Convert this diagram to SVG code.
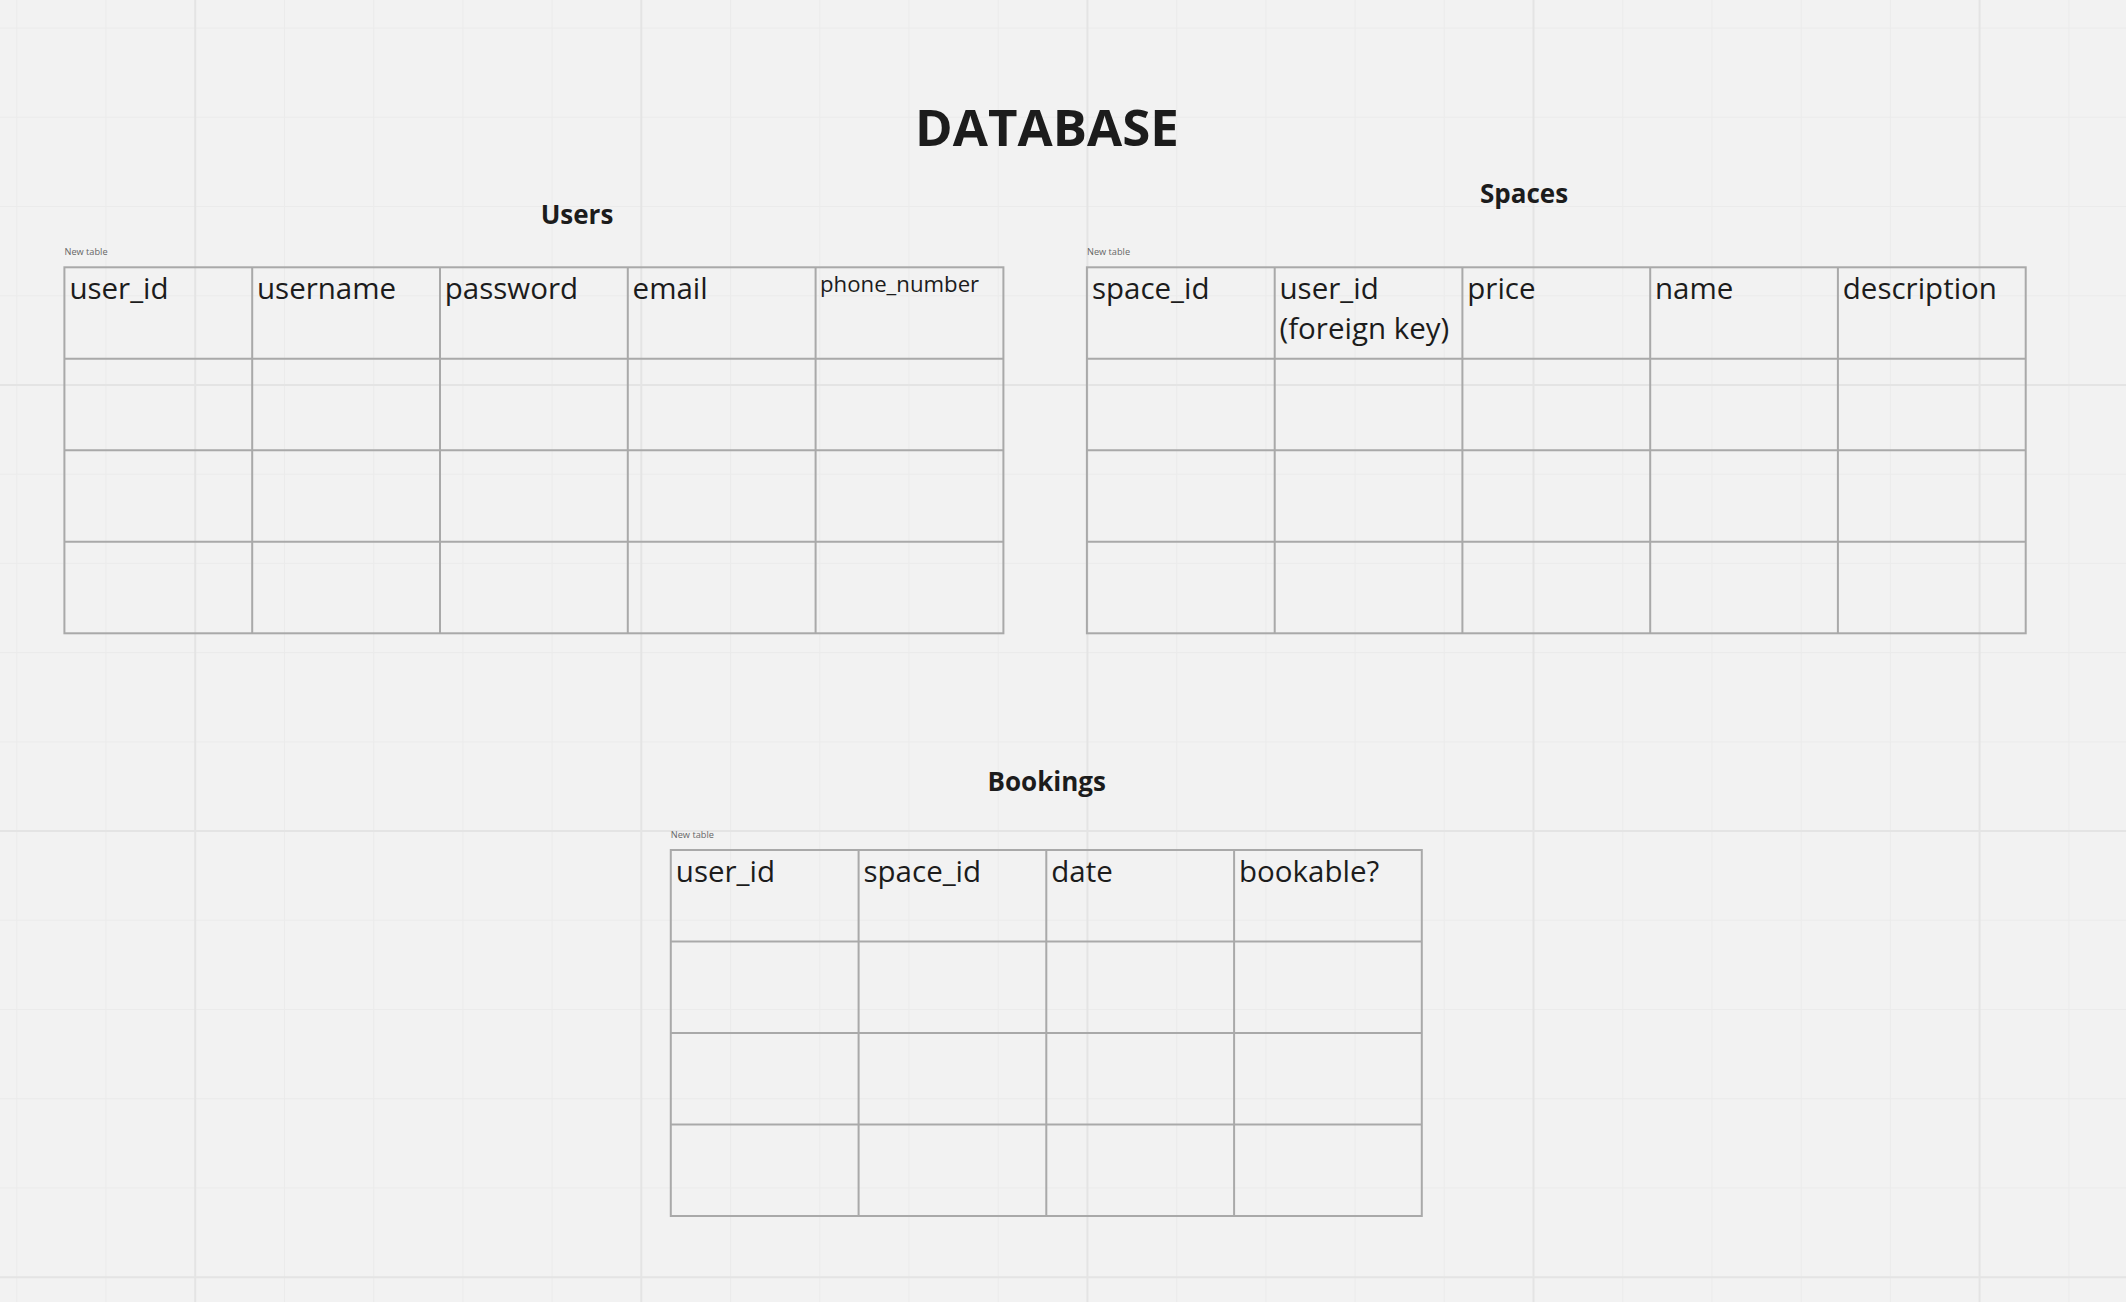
<svg xmlns="http://www.w3.org/2000/svg" width="2126" height="1302" viewBox="0 0 2126 1302">
<style>
.minor{stroke:#ebebeb;stroke-width:1;fill:none}
.major{stroke:#e4e4e4;stroke-width:2;fill:none}
.tbl{stroke:#a9a9a9;stroke-width:2;fill:none}
.hdr{font-family:"Open Sans","Noto Sans","Liberation Sans",sans-serif;font-size:29.5px;fill:#1c1c1c}
.hdr-sm{font-family:"Open Sans","Noto Sans","Liberation Sans",sans-serif;font-size:22.2px;fill:#1c1c1c}
.cap{font-family:"Open Sans","Noto Sans","Liberation Sans",sans-serif;font-size:9.2px;fill:#666666}
.ttl{font-family:"Open Sans","Noto Sans","Liberation Sans",sans-serif;font-weight:bold;font-size:26px;fill:#1c1c1c;text-anchor:middle}
.main{font-family:"Open Sans","Noto Sans","Liberation Sans",sans-serif;font-weight:bold;font-size:51px;fill:#1c1c1c;text-anchor:middle}
</style>
<rect x="0" y="0" width="2126" height="1302" fill="#f2f2f2"/>
<g id="grid">
<path class="minor" d="M16.8 0V1302M106 0V1302M284.5 0V1302M373.7 0V1302M462.9 0V1302M552.1 0V1302M730.6 0V1302M819.8 0V1302M909 0V1302M998.2 0V1302M1176.7 0V1302M1265.9 0V1302M1355.1 0V1302M1444.3 0V1302M1622.8 0V1302M1712 0V1302M1801.2 0V1302M1890.4 0V1302M2068.9 0V1302M0 28.1H2126M0 117.3H2126M0 206.5H2126M0 295.8H2126M0 474.2H2126M0 563.4H2126M0 652.6H2126M0 741.9H2126M0 920.3H2126M0 1009.5H2126M0 1098.7H2126M0 1188H2126"/>
<path class="major" d="M195.2 0V1302M641.3 0V1302M1087.4 0V1302M1533.5 0V1302M1979.6 0V1302M0 385H2126M0 831.1H2126M0 1277.2H2126"/>
</g>
<g id="title">
<text class="main" x="1047" y="146">DATABASE</text>
</g>
<g id="users">
<text class="ttl" x="577" y="224">Users</text>
<text class="cap" x="64.5" y="255">New table</text>
<rect class="tbl" x="64.4" y="267.3" width="939" height="366"/>
<path class="tbl" d="M252.2 267.3V633.3M440 267.3V633.3M627.8 267.3V633.3M815.6 267.3V633.3M64.4 358.8H1003.4M64.4 450.3H1003.4M64.4 541.8H1003.4"/>
<text class="hdr" x="69.4" y="299">user_id</text>
<text class="hdr" x="257" y="299">username</text>
<text class="hdr" x="444.8" y="299">password</text>
<text class="hdr" x="632.6" y="299">email</text>
<text class="hdr-sm" x="820" y="292.3">phone_number</text>
</g>
<g id="spaces">
<text class="ttl" x="1524" y="202.7">Spaces</text>
<text class="cap" x="1087" y="255">New table</text>
<rect class="tbl" x="1086.9" y="267.3" width="938.8" height="366"/>
<path class="tbl" d="M1274.7 267.3V633.3M1462.4 267.3V633.3M1650.2 267.3V633.3M1837.9 267.3V633.3M1086.9 358.8H2025.7M1086.9 450.3H2025.7M1086.9 541.8H2025.7"/>
<text class="hdr" x="1091.9" y="299">space_id</text>
<text class="hdr" x="1279.5" y="299">user_id</text>
<text class="hdr" x="1279.5" y="339">(foreign key)</text>
<text class="hdr" x="1467.3" y="299">price</text>
<text class="hdr" x="1655" y="299">name</text>
<text class="hdr" x="1842.8" y="299">description</text>
</g>
<g id="bookings">
<text class="ttl" x="1046.7" y="790.7">Bookings</text>
<text class="cap" x="670.8" y="837.5">New table</text>
<rect class="tbl" x="670.8" y="850" width="751" height="366"/>
<path class="tbl" d="M858.6 850V1216M1046.3 850V1216M1234.1 850V1216M670.8 941.5H1421.8M670.8 1033H1421.8M670.8 1124.5H1421.8"/>
<text class="hdr" x="675.8" y="881.7">user_id</text>
<text class="hdr" x="863.5" y="881.7">space_id</text>
<text class="hdr" x="1051.2" y="881.7">date</text>
<text class="hdr" x="1239" y="881.7">bookable?</text>
</g>
<g id="connectors"/>
</svg>
